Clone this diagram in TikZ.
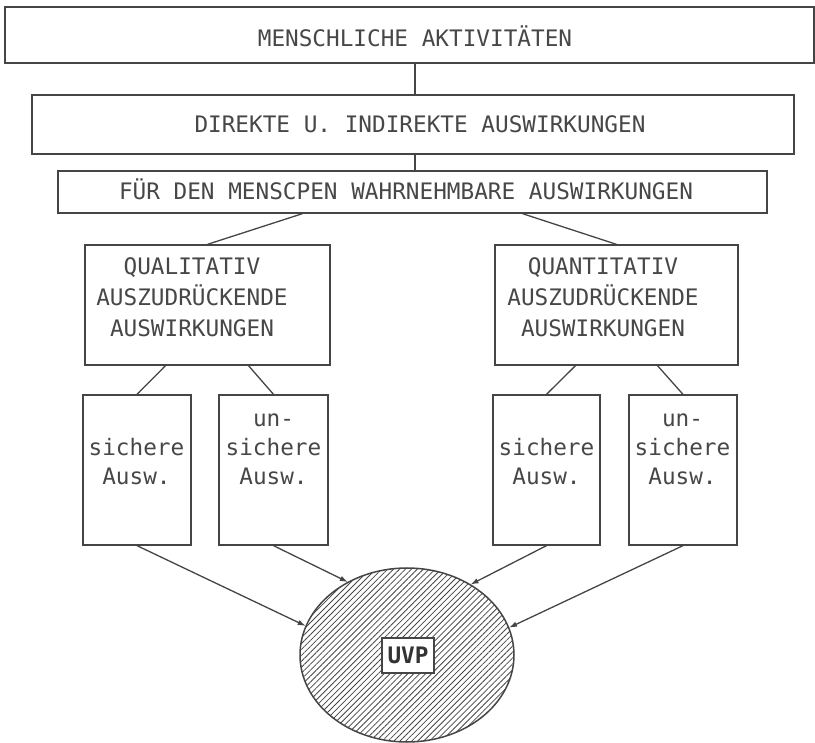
\documentclass[tikz,border=0pt]{standalone}
\usepackage{fontspec}
\setmainfont{DejaVu Sans Mono}
\usetikzlibrary{calc,shapes.geometric,patterns.meta,arrows.meta}
\definecolor{ink}{HTML}{454545}
\definecolor{txt}{HTML}{474747}
\begin{document}
\begin{tikzpicture}[x=1pt,y=-1pt,
  box/.style={draw=ink,line width=1.3pt,inner sep=0pt,fill=white},
  lbl/.style={text=txt,font=\fontsize{22.7}{29}\selectfont,align=center,inner sep=0pt},
  biglbl/.style={lbl,font=\fontsize{22.7}{31}\selectfont},
  link/.style={draw=ink,line width=1.3pt},
  arr/.style={link,-{Latex[length=8pt,width=5.5pt]}}]
\useasboundingbox (0,0) rectangle (815,743);

% top chain of boxes
\node[box,minimum width=809,minimum height=56] (top) at (409.5,35) {};
\node[lbl,anchor=base] (toptext) at (415,47) {MENSCHLICHE AKTIVITÄTEN};

\node[box,minimum width=762,minimum height=59] (direkt) at (413,124.5) {};
\node[lbl,anchor=base] (direkttext) at (420,133) {DIREKTE U. INDIREKTE AUSWIRKUNGEN};

\node[box,minimum width=709,minimum height=42] (fuer) at (412.5,192) {};
\node[lbl,anchor=base] (fuertext) at (406,200) {FÜR DEN MENSCPEN WAHRNEHMBARE AUSWIRKUNGEN};

% second level
\node[box,minimum width=245,minimum height=120] (qual) at (207.5,305) {};
\node[biglbl] (qualtext) at (192,297.7) {QUALITATIV\\AUSZUDRÜCKENDE\\AUSWIRKUNGEN};

\node[box,minimum width=243,minimum height=120] (quant) at (616.5,305) {};
\node[biglbl] (quanttext) at (603,297.7) {QUANTITATIV\\AUSZUDRÜCKENDE\\AUSWIRKUNGEN};

% third level
\node[box,minimum width=108,minimum height=150] (s1) at (137,470) {};
\node[lbl] (s1text) at (136.5,461.9) {sichere\\Ausw.};
\node[box,minimum width=109,minimum height=150] (u1) at (273.5,470) {};
\node[lbl] (u1text) at (273.5,449.8) {un-\\sichere\\Ausw.};
\node[box,minimum width=107,minimum height=150] (s2) at (546.5,470) {};
\node[lbl] (s2text) at (546.5,461.9) {sichere\\Ausw.};
\node[box,minimum width=108,minimum height=150] (u2) at (683,470) {};
\node[lbl] (u2text) at (682.5,449.8) {un-\\sichere\\Ausw.};

% hatched target
\node[ellipse,draw=ink,line width=1.5pt,inner sep=0pt,minimum width=214,minimum height=174,
  pattern={Lines[angle=45,distance=4.2pt,line width=0.8pt]},pattern color=ink] (cloud) at (407,655) {};
\node[box,minimum width=52,minimum height=35,text=black!80,
  font=\fontsize{22.7}{26}\selectfont\bfseries] (uvp) at (408,655.5) {UVP};

% connectors
\draw[link] ([xshift=2pt]direkt.north) -- ([xshift=2pt]direkt.north |- top.south);
\draw[link] ([xshift=2pt]direkt.south) -- ([xshift=2pt]direkt.south |- fuer.north);
\draw[link] ($(fuer.south)+(-110,0)$) -- (qual.north);
\draw[link] ($(fuer.south)+(110,0)$) -- (quant.north);
\draw[link] ($(qual.south)+(-42,0)$) -- (s1.north);
\draw[link] ($(qual.south)+(41,0)$) -- (u1.north);
\draw[link] ($(quant.south)+(-41,0)$) -- (s2.north);
\draw[link] ($(quant.south)+(41,0)$) -- (u2.north);

\draw[arr] (s1.south) -- (cloud.164.6);
\draw[arr] (u1.south) -- (cloud.129.8);
\draw[arr] (s2.south) -- (cloud.48.8);
\draw[arr] (u2.south) -- (cloud.15.2);
\end{tikzpicture}
\end{document}
